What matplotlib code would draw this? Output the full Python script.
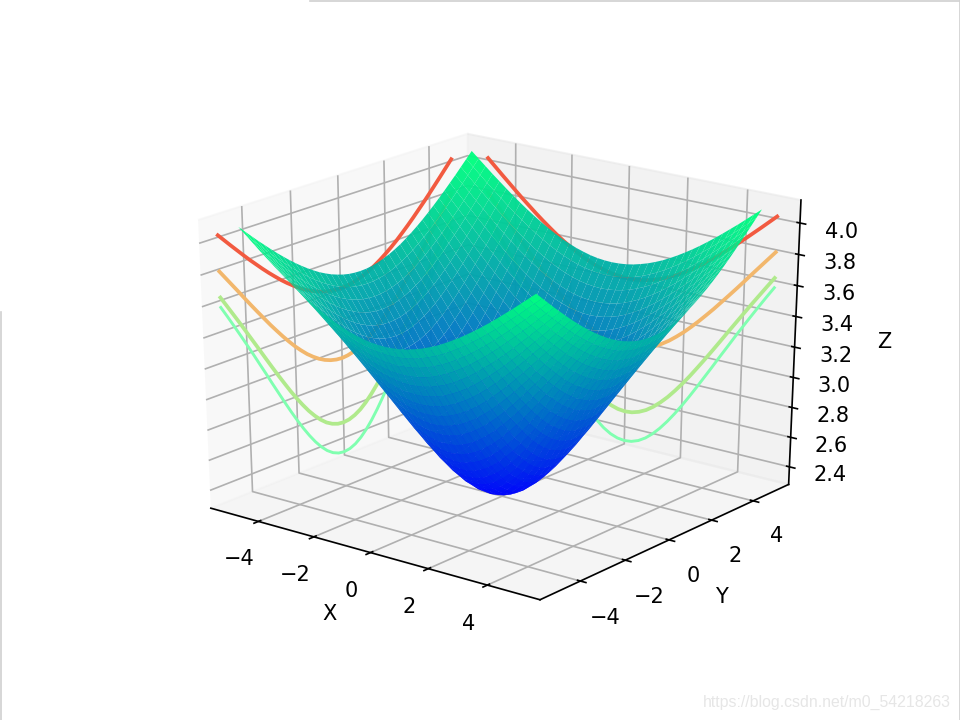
import matplotlib
matplotlib.use('Agg')
import matplotlib.pyplot as plt
import numpy as np
from matplotlib.lines import Line2D

# one quadrant of the surface, |x| and |y| = 0, 0.25 ... 5
z_quadrant = [
    [2.303, 2.309, 2.327, 2.357, 2.398, 2.448, 2.506, 2.570, 2.639, 2.712, 2.788, 2.866, 2.944, 3.024, 3.102, 3.181, 3.258, 3.334, 3.409, 3.483, 3.555],
    [2.309, 2.315, 2.333, 2.363, 2.404, 2.453, 2.511, 2.575, 2.643, 2.716, 2.792, 2.869, 2.948, 3.026, 3.105, 3.183, 3.261, 3.337, 3.412, 3.485, 3.557],
    [2.327, 2.333, 2.351, 2.381, 2.420, 2.469, 2.526, 2.589, 2.657, 2.729, 2.803, 2.880, 2.958, 3.036, 3.114, 3.191, 3.268, 3.343, 3.418, 3.491, 3.562],
    [2.357, 2.363, 2.381, 2.409, 2.448, 2.495, 2.550, 2.612, 2.678, 2.749, 2.822, 2.897, 2.974, 3.050, 3.127, 3.204, 3.280, 3.354, 3.428, 3.500, 3.571],
    [2.398, 2.404, 2.420, 2.448, 2.485, 2.531, 2.584, 2.643, 2.708, 2.776, 2.848, 2.921, 2.996, 3.071, 3.146, 3.221, 3.296, 3.369, 3.442, 3.513, 3.584],
    [2.448, 2.453, 2.469, 2.495, 2.531, 2.575, 2.626, 2.683, 2.745, 2.811, 2.880, 2.951, 3.024, 3.097, 3.170, 3.244, 3.316, 3.389, 3.460, 3.530, 3.599],
    [2.506, 2.511, 2.526, 2.550, 2.584, 2.626, 2.674, 2.729, 2.788, 2.851, 2.918, 2.986, 3.056, 3.127, 3.199, 3.270, 3.341, 3.412, 3.481, 3.550, 3.618],
    [2.570, 2.575, 2.589, 2.612, 2.643, 2.683, 2.729, 2.780, 2.837, 2.897, 2.961, 3.026, 3.094, 3.162, 3.231, 3.300, 3.369, 3.438, 3.506, 3.573, 3.639],
    [2.639, 2.643, 2.657, 2.678, 2.708, 2.745, 2.788, 2.837, 2.890, 2.948, 3.008, 3.071, 3.135, 3.201, 3.268, 3.334, 3.401, 3.468, 3.534, 3.599, 3.664],
    [2.712, 2.716, 2.729, 2.749, 2.776, 2.811, 2.851, 2.897, 2.948, 3.002, 3.059, 3.119, 3.181, 3.244, 3.307, 3.372, 3.436, 3.500, 3.564, 3.628, 3.691],
    [2.788, 2.792, 2.803, 2.822, 2.848, 2.880, 2.918, 2.961, 3.008, 3.059, 3.114, 3.170, 3.229, 3.289, 3.350, 3.412, 3.474, 3.536, 3.597, 3.659, 3.720],
    [2.866, 2.869, 2.880, 2.897, 2.921, 2.951, 2.986, 3.026, 3.071, 3.119, 3.170, 3.224, 3.280, 3.337, 3.395, 3.454, 3.513, 3.573, 3.633, 3.692, 3.751],
    [2.944, 2.948, 2.958, 2.974, 2.996, 3.024, 3.056, 3.094, 3.135, 3.181, 3.229, 3.280, 3.332, 3.387, 3.442, 3.498, 3.555, 3.613, 3.670, 3.727, 3.784],
    [3.024, 3.026, 3.036, 3.050, 3.071, 3.097, 3.127, 3.162, 3.201, 3.244, 3.289, 3.337, 3.387, 3.438, 3.491, 3.545, 3.599, 3.654, 3.709, 3.764, 3.819],
    [3.102, 3.105, 3.114, 3.127, 3.146, 3.170, 3.199, 3.231, 3.268, 3.307, 3.350, 3.395, 3.442, 3.491, 3.541, 3.592, 3.644, 3.697, 3.750, 3.802, 3.855],
    [3.181, 3.183, 3.191, 3.204, 3.221, 3.244, 3.270, 3.300, 3.334, 3.372, 3.412, 3.454, 3.498, 3.545, 3.592, 3.641, 3.691, 3.741, 3.791, 3.842, 3.893],
    [3.258, 3.261, 3.268, 3.280, 3.296, 3.316, 3.341, 3.369, 3.401, 3.436, 3.474, 3.513, 3.555, 3.599, 3.644, 3.691, 3.738, 3.786, 3.834, 3.883, 3.932],
    [3.334, 3.337, 3.343, 3.354, 3.369, 3.389, 3.412, 3.438, 3.468, 3.500, 3.536, 3.573, 3.613, 3.654, 3.697, 3.741, 3.786, 3.831, 3.878, 3.924, 3.971],
    [3.409, 3.412, 3.418, 3.428, 3.442, 3.460, 3.481, 3.506, 3.534, 3.564, 3.597, 3.633, 3.670, 3.709, 3.750, 3.791, 3.834, 3.878, 3.922, 3.967, 4.012],
    [3.483, 3.485, 3.491, 3.500, 3.513, 3.530, 3.550, 3.573, 3.599, 3.628, 3.659, 3.692, 3.727, 3.764, 3.802, 3.842, 3.883, 3.924, 3.967, 4.010, 4.053],
    [3.555, 3.557, 3.562, 3.571, 3.584, 3.599, 3.618, 3.639, 3.664, 3.691, 3.720, 3.751, 3.784, 3.819, 3.855, 3.893, 3.932, 3.971, 4.012, 4.053, 4.094],
]
grid_half = [0, 0.25, 0.5, 0.75, 1, 1.25, 1.5, 1.75, 2, 2.25, 2.5, 2.75, 3, 3.25, 3.5, 3.75, 4, 4.25, 4.5, 4.75, 5]
z_ticks = [2.4, 2.6, 2.8, 3.0, 3.2, 3.4, 3.6, 3.8, 4.0]
# quadrant rows used for the curves on the walls, and their colours
wall_rows = [0, 6, 12, 18]
wall_colors = ['#80ffb0', '#b0ea8c', '#f2b76c', '#f25a40']
wall_widths = [1.4, 1.8, 1.8, 1.8]

q = np.array(z_quadrant)
Z = np.vstack([np.hstack([q[::-1, :0:-1], q[::-1, :]]), np.hstack([q[1:, :0:-1], q[1:, :]])])
g = np.array(grid_half)
axis_vals = np.concatenate([-g[:0:-1], g])
X, Y = np.meshgrid(axis_vals, axis_vals)

fig = plt.figure(figsize=(6.4, 4.8), dpi=150)
ax = fig.add_subplot(111, projection='3d')
# old style 3d axes: cube stretched over the whole axes rectangle
ax.apply_aspect = lambda position=None: None
ax.set_box_aspect((1, 1, 1), zoom=0.95)
ax.view_init(elev=24, azim=-52)

ax.plot_surface(X, Y, Z, rstride=1, cstride=1, cmap='winter', linewidth=0, antialiased=True, alpha=0.96)

lim = 5.75
for row, color, w in zip(wall_rows, wall_colors, wall_widths):
    curve = np.concatenate([q[row, :0:-1], q[row, :]])
    ax.plot(np.full(axis_vals.size, -lim), axis_vals, curve, color=color, lw=w)
    ax.plot(axis_vals, np.full(axis_vals.size, lim), curve, color=color, lw=w)

ax.set_xlim(-lim, lim)
ax.set_ylim(-lim, lim)
ax.set_zlim(2.28, 4.145)
ax.set_xticks([-4, -2, 0, 2, 4])
ax.set_yticks([-4, -2, 0, 2, 4])
ax.set_zticks(z_ticks)
ax.set_xlabel('X')
ax.set_ylabel('Y')
ax.set_zlabel('Z')

# page edges and watermark from the screenshot
fig.add_artist(Line2D([310/960, 1], [0.999, 0.999], color='#d0d0d0', lw=0.8))
fig.add_artist(Line2D([0.0008, 0.0008], [0, 408/720], color='#d0d0d0', lw=0.8))
fig.add_artist(Line2D([0.9995, 0.9995], [0, 1], color='#d0d0d0', lw=0.8))
fig.text(951/960, 1-702/720, 'https://blog.csdn.net/m0_54218263', color='#e6e6e6',
         fontsize=7.6, family='Liberation Sans', ha='right', va='center')

plt.savefig('out.png')
